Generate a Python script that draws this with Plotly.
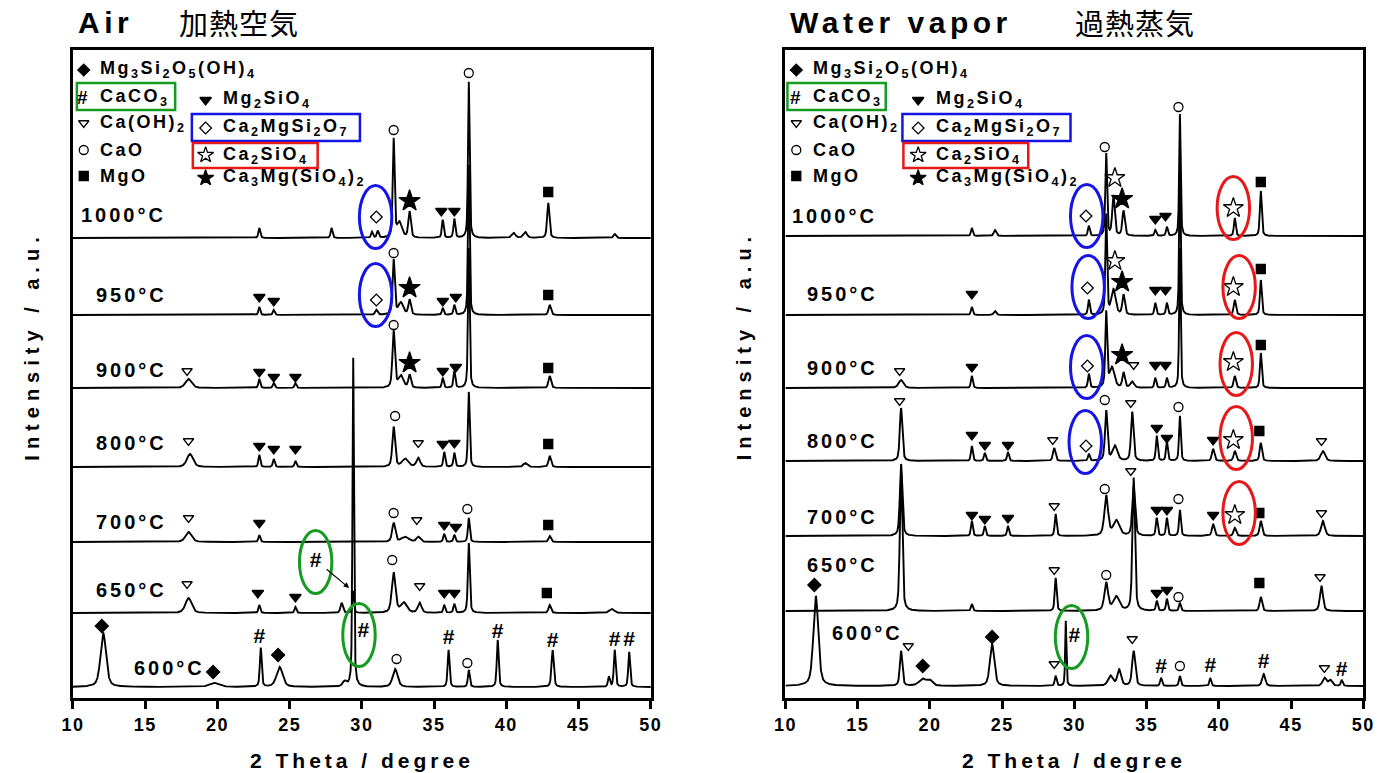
import numpy as np
import plotly.graph_objects as go

# ---------------- data: peak lists (2theta, height, FWHM) ----------------
TEMPS = ["1000°C", "950°C", "900°C", "800°C", "700°C", "650°C", "600°C"]

# Air (left panel) baselines (intensity offset, a.u.)
AIR_OFFSETS = [460, 383, 310, 231, 156, 85, 11]
AIR_1000 = [(22.9, 10, 0.15), (27.9, 10, 0.15), (30.7, 6, 0.15), (31.1, 7, 0.15), (32.2, 98, 0.15),
            (32.6, 15, 0.4), (33.3, 26, 0.2), (35.6, 18, 0.15), (36.4, 19, 0.15), (37.4, 156, 0.13),
            (40.5, 5, 0.3), (41.3, 6, 0.3), (42.9, 35, 0.18), (47.5, 4, 0.2)]
AIR_950 = [(22.9, 8, 0.15), (23.9, 5, 0.15), (31.0, 5, 0.2), (32.2, 55, 0.18), (32.7, 12, 0.4),
           (33.3, 15, 0.2), (35.6, 7, 0.15), (36.4, 10, 0.15), (37.4, 150, 0.13), (43.0, 10, 0.2)]
AIR_900 = [(18.0, 9, 0.5), (22.9, 9, 0.15), (23.9, 5, 0.15), (25.4, 5, 0.15), (32.2, 57, 0.2),
           (32.7, 12, 0.4), (33.3, 13, 0.2), (35.6, 10, 0.15), (36.4, 17, 0.15), (37.4, 140, 0.13),
           (43.0, 12, 0.2)]
AIR_800 = [(18.1, 13, 0.5), (22.9, 12, 0.15), (23.9, 8, 0.15), (25.4, 6, 0.15), (32.2, 40, 0.22),
           (33.0, 8, 0.5), (33.9, 9, 0.3), (35.7, 15, 0.15), (36.4, 14, 0.15), (37.4, 75, 0.14),
           (41.3, 4, 0.3), (43.0, 11, 0.2)]
AIR_700 = [(18.0, 10, 0.5), (22.9, 7, 0.15), (32.2, 19, 0.25), (33.0, 5, 0.6), (33.9, 5, 0.3),
           (35.7, 8, 0.15), (36.4, 7, 0.15), (37.4, 24, 0.15), (43.0, 6, 0.2)]
AIR_650 = [(18.0, 15, 0.5), (22.9, 8, 0.15), (25.4, 6, 0.15), (28.6, 10, 0.2), (29.4, 22, 0.12),
           (32.2, 40, 0.3), (32.9, 10, 0.5), (34.0, 10, 0.3), (35.7, 8, 0.15), (36.4, 9, 0.15),
           (37.4, 70, 0.15), (43.0, 8, 0.2), (47.3, 4, 0.4)]
AIR_600 = [(12.1, 54, 0.45), (19.8, 4, 0.8), (23.0, 39, 0.15), (24.3, 20, 0.5), (28.8, 5, 0.3),
           (29.4, 329, 0.12), (32.3, 18, 0.4), (36.0, 37, 0.15), (37.4, 17, 0.15), (39.4, 47, 0.15),
           (43.2, 37, 0.18), (47.1, 10, 0.15), (47.5, 37, 0.15), (48.5, 35, 0.15)]

# Water vapor (right panel)
WV_OFFSETS = [462, 383, 310, 237, 162, 87, 12]
WV_1000 = [(22.9, 8, 0.15), (24.5, 6, 0.2), (31.0, 10, 0.15), (32.2, 82, 0.14), (32.7, 40, 0.2),
           (33.4, 25, 0.2), (35.6, 6, 0.15), (36.4, 9, 0.15), (37.3, 122, 0.12), (41.1, 18, 0.15),
           (42.9, 45, 0.15)]
WV_950 = [(22.9, 8, 0.15), (24.5, 4, 0.2), (31.0, 15, 0.15), (32.2, 100, 0.14), (32.7, 25, 0.35),
          (33.4, 20, 0.2), (35.6, 12, 0.15), (36.4, 12, 0.15), (37.3, 145, 0.12), (41.1, 15, 0.18),
          (42.9, 35, 0.15)]
WV_900 = [(18.0, 8, 0.4), (22.9, 12, 0.15), (31.0, 14, 0.15), (32.2, 75, 0.15), (32.6, 20, 0.4),
          (33.4, 15, 0.2), (34.0, 6, 0.3), (35.6, 10, 0.15), (36.4, 10, 0.15), (37.3, 140, 0.12),
          (41.1, 12, 0.18), (42.9, 35, 0.15)]
WV_800 = [(18.0, 53, 0.2), (22.9, 15, 0.15), (23.8, 8, 0.15), (25.4, 9, 0.15), (28.6, 13, 0.2),
          (31.0, 7, 0.15), (32.2, 50, 0.2), (32.8, 15, 0.4), (34.0, 49, 0.2), (35.7, 25, 0.15),
          (36.4, 19, 0.15), (37.3, 45, 0.14), (39.6, 12, 0.2), (41.1, 10, 0.2), (42.9, 18, 0.18),
          (47.2, 10, 0.35)]
WV_700 = [(18.0, 72, 0.2), (22.9, 15, 0.15), (23.8, 10, 0.15), (25.4, 10, 0.15), (28.7, 22, 0.15),
          (32.2, 40, 0.3), (32.9, 15, 0.5), (34.1, 50, 0.22), (35.7, 18, 0.15), (36.4, 18, 0.15),
          (37.3, 26, 0.15), (39.6, 12, 0.2), (41.1, 8, 0.2), (42.9, 15, 0.2), (47.2, 15, 0.3)]
WV_650 = [(18.0, 140, 0.2), (22.9, 7, 0.15), (28.7, 33, 0.15), (32.2, 28, 0.3), (32.9, 14, 0.5),
          (34.1, 133, 0.2), (35.7, 10, 0.15), (36.4, 12, 0.15), (37.3, 8, 0.15), (42.9, 14, 0.2),
          (47.1, 25, 0.25)]
WV_600 = [(12.1, 90, 0.4), (18.0, 35, 0.2), (19.5, 7, 0.6), (20.0, 5, 0.4), (24.3, 42, 0.35),
          (28.7, 10, 0.15), (29.4, 65, 0.1), (32.5, 10, 0.4), (33.1, 16, 0.3), (34.1, 35, 0.25),
          (36.0, 8, 0.15), (37.3, 10, 0.15), (39.4, 8, 0.15), (43.1, 12, 0.25), (47.3, 8, 0.3),
          (47.7, 6, 0.3), (48.5, 6, 0.15)]

# Phase markers: (phase code, 2theta, intensity level)
# D Mg3Si2O5(OH)4, # CaCO3, v Ca(OH)2, o CaO, s MgO, V Mg2SiO4, d Ca2MgSi2O7, a Ca2SiO4, A Ca3Mg(SiO4)2
AIR_MARKS = [
    ("o", 32.2, 568), ("d", 31.0, 481), ("A", 33.3, 497), ("V", 35.5, 487), ("V", 36.4, 487),
    ("o", 37.4, 625), ("s", 42.9, 506),
    ("V", 22.9, 401), ("V", 23.9, 397), ("d", 31.0, 398), ("o", 32.2, 445), ("A", 33.3, 410),
    ("V", 35.6, 397), ("V", 36.5, 401), ("s", 42.9, 403),
    ("v", 17.9, 327), ("V", 22.9, 326), ("V", 23.9, 321), ("V", 25.4, 321), ("o", 32.2, 373),
    ("A", 33.3, 335), ("V", 35.6, 327), ("V", 36.5, 331), ("s", 42.9, 330),
    ("v", 18.0, 257), ("V", 22.9, 252), ("V", 23.9, 249), ("V", 25.4, 249), ("o", 32.3, 282),
    ("v", 33.9, 255), ("V", 35.6, 254), ("V", 36.4, 255), ("s", 42.9, 254),
    ("v", 18.0, 180), ("V", 22.9, 175), ("o", 32.2, 185), ("v", 33.8, 178), ("V", 35.7, 173),
    ("V", 36.5, 171), ("o", 37.3, 189), ("s", 42.9, 173),
    ("v", 17.9, 114), ("V", 22.8, 105), ("V", 25.4, 101), ("o", 32.1, 138), ("v", 34.0, 112),
    ("V", 35.7, 105), ("V", 36.4, 105), ("s", 42.8, 105), ("#", 26.8, 136),
    ("D", 12.0, 72), ("D", 19.7, 26), ("#", 22.9, 60), ("D", 24.2, 43), ("#", 30.1, 66),
    ("o", 32.4, 39), ("#", 36.0, 59), ("o", 37.3, 35), ("#", 39.4, 65), ("#", 43.2, 56),
    ("#", 47.5, 57), ("#", 48.5, 57),
]
WV_MARKS = [
    ("o", 32.1, 551), ("a", 32.8, 520), ("A", 33.3, 499), ("d", 30.8, 482), ("V", 35.6, 479),
    ("V", 36.3, 482), ("o", 37.2, 591), ("a", 41.0, 490), ("s", 42.9, 516),
    ("V", 22.9, 404), ("d", 30.9, 410), ("a", 32.8, 437), ("A", 33.3, 416), ("V", 35.6, 408),
    ("V", 36.3, 408), ("a", 41.0, 411), ("s", 42.9, 429),
    ("v", 17.9, 327), ("V", 22.9, 331), ("d", 30.9, 332), ("A", 33.3, 343), ("v", 34.1, 333),
    ("V", 35.6, 333), ("V", 36.3, 333), ("a", 41.0, 336), ("s", 42.9, 353),
    ("v", 17.9, 297), ("V", 22.9, 263), ("V", 23.8, 253), ("V", 25.4, 253), ("v", 28.5, 258),
    ("d", 30.8, 252), ("o", 32.1, 298), ("v", 33.9, 295), ("V", 35.7, 270), ("V", 36.4, 260),
    ("o", 37.2, 291), ("V", 39.6, 258), ("a", 41.0, 258), ("s", 42.8, 267), ("v", 47.1, 257),
    ("V", 22.9, 183), ("V", 23.8, 179), ("V", 25.4, 180), ("v", 28.6, 192), ("o", 32.1, 209),
    ("v", 33.9, 227), ("V", 35.7, 188), ("V", 36.4, 188), ("o", 37.2, 199), ("V", 39.6, 183),
    ("a", 41.1, 183), ("s", 42.8, 185), ("v", 47.1, 185),
    ("D", 12.0, 113), ("v", 28.6, 128), ("o", 32.2, 123), ("V", 35.7, 105), ("V", 36.4, 108),
    ("o", 37.2, 101), ("s", 42.8, 115), ("v", 47.0, 121),
    ("v", 18.5, 52), ("D", 19.5, 32), ("D", 24.3, 61), ("v", 28.6, 34), ("#", 30.0, 61),
    ("v", 34.0, 59), ("#", 36.0, 30), ("o", 37.3, 32), ("#", 39.4, 31), ("#", 43.1, 35),
    ("v", 47.3, 30), ("#", 48.5, 27),
]

LEGEND_COL1 = [("D", "Mg<sub>3</sub>Si<sub>2</sub>O<sub>5</sub>(OH)<sub>4</sub>"), ("#", "CaCO<sub>3</sub>"),
               ("v", "Ca(OH)<sub>2</sub>"), ("o", "CaO"), ("s", "MgO")]
LEGEND_COL2 = [("V", "Mg<sub>2</sub>SiO<sub>4</sub>"), ("d", "Ca<sub>2</sub>MgSi<sub>2</sub>O<sub>7</sub>"),
               ("a", "Ca<sub>2</sub>SiO<sub>4</sub>"), ("A", "Ca<sub>3</sub>Mg(SiO<sub>4</sub>)<sub>2</sub>")]
XTICKS = [10, 15, 20, 25, 30, 35, 40, 45, 50]

# ---------------- layout constants ----------------
W, H = 1397, 773
TOP, BOT = 50, 698
PANELS = [
    dict(x0=62, x1=650, xa="x", ya="y", peaks=[AIR_1000, AIR_950, AIR_900, AIR_800, AIR_700, AIR_650, AIR_600],
         offs=AIR_OFFSETS, marks=AIR_MARKS, title="Air", jp="加熱空気", jpx=168, titlex=65,
         labels=[(68, 215), (83, 295), (83, 370), (83, 443), (83, 522), (83, 590), (122, 668)],
         ell=[("b", 30.95, 217), ("b", 30.95, 295), ("g", 26.8, 562), ("g", 29.8, 635)]),
    dict(x0=787, x1=1375, xa="x2", ya="y2", peaks=[WV_1000, WV_950, WV_900, WV_800, WV_700, WV_650, WV_600],
         offs=WV_OFFSETS, marks=WV_MARKS, title="Water vapor", jp="過熱蒸気", jpx=1080, titlex=790,
         labels=[(792, 216), (807, 294), (807, 368), (807, 441), (807, 517), (807, 565), (832, 633)],
         ell=[("b", 30.85, 216), ("b", 30.95, 287), ("b", 30.85, 367), ("b", 30.75, 442),
              ("r", 41.0, 208), ("r", 41.4, 287), ("r", 41.2, 364), ("r", 41.2, 438), ("r", 41.4, 513),
              ("g", 29.8, 637)]),
]
ELL_COL = {"b": "#1414e6", "r": "#e81818", "g": "#159a22"}
FONT = "Liberation Sans, Arial, sans-serif"

MSTYLE = {
    "D": dict(symbol="diamond", size=10),
    "v": dict(symbol="triangle-down-open", size=9),
    "o": dict(symbol="circle-open", size=9),
    "s": dict(symbol="square", size=9),
    "V": dict(symbol="triangle-down", size=10),
    "d": dict(symbol="diamond-open", size=9),
    "a": dict(symbol="star-open", size=15),
    "A": dict(symbol="star", size=16),
}
LSTYLE = {
    "D": dict(symbol="diamond", size=9), "v": dict(symbol="triangle-down-open", size=9),
    "o": dict(symbol="circle-open", size=9), "s": dict(symbol="square", size=9),
    "V": dict(symbol="triangle-down", size=10), "d": dict(symbol="diamond-open", size=9),
    "a": dict(symbol="star-open", size=12), "A": dict(symbol="star", size=12),
}

X = np.round(np.arange(10, 50.0001, 0.01), 3)


def profile(peaks):
    y = np.zeros_like(X)
    for pos, h, w in peaks:
        d = (X - pos) / (w / 2)
        y += h * (0.5 / (1 + d ** 2) + 0.5 * np.exp(-np.log(2) * d ** 2))
    return y


def px2paper(px, py):
    return px / W, 1 - py / H


def sp(text, ls):
    return f'<span style="letter-spacing:{ls}px">{text}</span>'


def txt(px, py, text, size, family=FONT, xanchor="left", angle=0):
    xp, yp = px2paper(px, py)
    return dict(xref="paper", yref="paper", x=xp, y=yp, xanchor=xanchor, yanchor="middle",
                showarrow=False, text=text, textangle=angle,
                font=dict(family=family, size=size, color="black"))


fig = go.Figure()
shapes, annotations = [], []

for p in PANELS:
    scale = (p["x1"] - p["x0"]) / 40.0

    def dx(px, p=p, scale=scale):
        return 10 + (px - p["x0"]) / scale

    # patterns
    for peaks, off in zip(p["peaks"], p["offs"]):
        fig.add_trace(go.Scatter(x=X, y=profile(peaks) + off, mode="lines", xaxis=p["xa"], yaxis=p["ya"],
                                 line=dict(color="black", width=1.9), hoverinfo="skip", showlegend=False))
    # markers
    for code in MSTYLE:
        pts = [(m[1], m[2]) for m in p["marks"] if m[0] == code]
        if not pts:
            continue
        st = MSTYLE[code]
        fig.add_trace(go.Scatter(x=[a for a, b in pts], y=[b for a, b in pts], mode="markers",
                                 xaxis=p["xa"], yaxis=p["ya"], cliponaxis=False, hoverinfo="skip",
                                 showlegend=False,
                                 marker=dict(symbol=st["symbol"], size=st["size"], color="black",
                                             line=dict(color="black", width=1.3))))
    pts = [(m[1], m[2]) for m in p["marks"] if m[0] == "#"]
    fig.add_trace(go.Scatter(x=[a for a, b in pts], y=[b for a, b in pts], mode="text", text=["#"] * len(pts),
                             xaxis=p["xa"], yaxis=p["ya"], cliponaxis=False, hoverinfo="skip", showlegend=False,
                             textfont=dict(family=FONT, size=21, color="black", weight="bold")))

    # ellipses
    for col, cx, cy in p["ell"]:
        hw = 16.5 / scale
        shapes.append(dict(type="circle", xref=p["xa"], yref=p["ya"], x0=cx - hw, x1=cx + hw,
                           y0=BOT - (cy + 31.5), y1=BOT - (cy - 31.5),
                           line=dict(color=ELL_COL[col], width=3)))

    # temperature labels
    for t, (lx, ly) in zip(TEMPS, p["labels"]):
        annotations.append(txt(lx, ly, "<b>" + sp(t, 3) + "</b>", 20))

    # legend
    off = p["x0"] - 62
    lx_sym, lx_txt = 73 + off, 88 + off
    rows1 = [70, 97, 123, 150, 176]
    for (code, label), ry in zip(LEGEND_COL1, rows1):
        if code == "#":
            annotations.append(txt(lx_sym - 1, ry, "<b>#</b>", 19, xanchor="center"))
        else:
            st = LSTYLE[code]
            fig.add_trace(go.Scatter(x=[dx(lx_sym)], y=[BOT - ry], mode="markers", xaxis=p["xa"], yaxis=p["ya"],
                                     cliponaxis=False, hoverinfo="skip", showlegend=False,
                                     marker=dict(symbol=st["symbol"], size=st["size"], color="black",
                                                 line=dict(color="black", width=1.3))))
        annotations.append(txt(lx_txt, ry, "<b>" + sp(label, 2.5) + "</b>", 18))
    rows2 = [100, 128, 155, 178]
    for (code, label), ry in zip(LEGEND_COL2, rows2):
        st = LSTYLE[code]
        fig.add_trace(go.Scatter(x=[dx(197 + off)], y=[BOT - ry], mode="markers", xaxis=p["xa"], yaxis=p["ya"],
                                 cliponaxis=False, hoverinfo="skip", showlegend=False,
                                 marker=dict(symbol=st["symbol"], size=st["size"], color="black",
                                             line=dict(color="black", width=1.3))))
        annotations.append(txt(213 + off, ry, "<b>" + sp(label, 2.5) + "</b>", 18))
    boxoff = off - 2 if off else 0
    for (bx0, by0, bx1, by1), col in [((66, 83, 166, 110), "g"), ((183, 114, 354, 141), "b"),
                                       ((184, 143, 311, 168), "r")]:
        a0, b0 = px2paper(bx0 + boxoff, by0)
        a1, b1 = px2paper(bx1 + boxoff, by1)
        shapes.append(dict(type="rect", xref="paper", yref="paper", x0=a0, y0=b1, x1=a1, y1=b0,
                           line=dict(color=ELL_COL[col], width=2.5)))

    # titles
    annotations.append(txt(p["titlex"], 23, "<b>" + sp(p["title"], 4.5) + "</b>", 30))
    annotations.append(txt(p["jpx"], 22, sp(p["jp"], 1), 29, family="Noto Sans CJK JP"))
    # axis titles
    annotations.append(txt((p["x0"] + p["x1"]) / 2, 760, "<b>" + sp("2 Theta / degree", 4) + "</b>", 21,
                           xanchor="center"))
    annotations.append(txt(p["x0"] - 42, 346, "<b>" + sp("Intensity / a.u.", 6) + "</b>", 20,
                           xanchor="center", angle=-90))

# arrow in the Air 650°C ellipse
annotations.append(dict(xref="x", yref="y", x=29.12, y=BOT - 588, ax=-24, ay=-20, showarrow=True,
                        arrowhead=2, arrowsize=1, arrowwidth=1.1, arrowcolor="black", text=""))

axis_common = dict(range=[10, 50], tickvals=XTICKS, ticktext=[sp(str(t), 1.5) for t in XTICKS],
                   ticks="outside", ticklen=8, tickwidth=2.5, tickcolor="black", showline=True, linewidth=3,
                   linecolor="black", mirror=True, showgrid=False, zeroline=False,
                   tickfont=dict(family=FONT, size=18, color="black", weight="bold"))
yaxis_common = dict(range=[0, BOT - TOP], showticklabels=False, ticks="", showline=True, linewidth=3,
                    linecolor="black", mirror=True, showgrid=False, zeroline=False,
                    domain=[1 - BOT / H, 1 - TOP / H])

fig.update_layout(
    width=W, height=H, margin=dict(l=0, r=0, t=0, b=0), paper_bgcolor="white", plot_bgcolor="white",
    xaxis=dict(domain=[62 / W, 650 / W], anchor="y", **axis_common),
    yaxis=dict(anchor="x", **yaxis_common),
    xaxis2=dict(domain=[787 / W, 1375 / W], anchor="y2", **axis_common),
    yaxis2=dict(anchor="x2", **yaxis_common),
    shapes=shapes, annotations=annotations, showlegend=False,
)

fig.write_html("out.html")
